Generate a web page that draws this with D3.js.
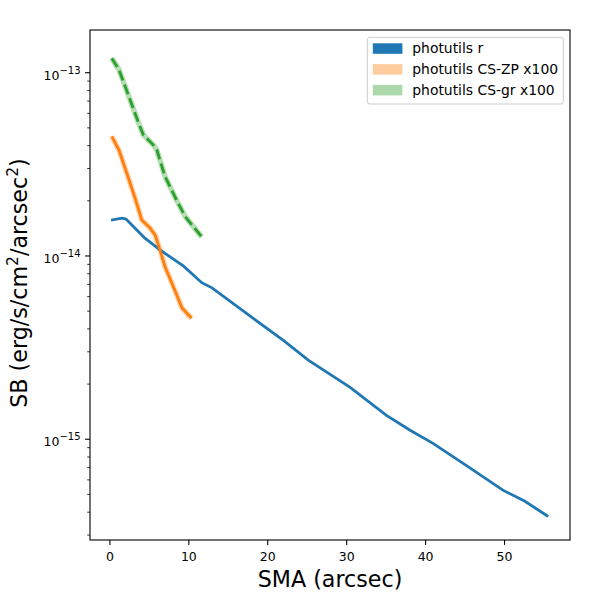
<!DOCTYPE html>
<html>
<head>
<meta charset="utf-8">
<script src="https://cdn.jsdelivr.net/npm/d3@7"></script>
<style>
  body { margin: 0; background: #fff; }
  text { font-family: "DejaVu Sans", sans-serif; }
</style>
</head>
<body>
<div id="chart"></div>
<script>
// photutils r profile (sma in arcsec, SB in erg/s/cm^2/arcsec^2)
const smaR = [0.2, 1.6, 2.1, 4.5, 6.4, 9.4, 11.7, 13.0, 18.4, 22.0, 25.2, 30.5, 35.1, 38.1, 41.0, 45.2, 49.9, 52.6, 55.6];
const sbR = [1.57e-14, 1.61e-14, 1.59e-14, 1.25e-14, 1.08e-14, 8.8e-15, 7.15e-15, 6.7e-15, 4.51e-15, 3.47e-15, 2.70e-15, 1.92e-15, 1.35e-15, 1.12e-15, 9.5e-16, 7.2e-16, 5.26e-16, 4.60e-16, 3.79e-16];

// CS-ZP x100
const smaZP = [0.3, 1.2, 2.2, 3.25, 4.1, 5.15, 5.8, 6.4, 7.05, 8.1, 9.2, 10.4];
const sbZP = [4.49e-14, 3.79e-14, 2.83e-14, 2.07e-14, 1.57e-14, 1.42e-14, 1.30e-14, 1.08e-14, 8.74e-15, 6.8e-15, 5.2e-15, 4.57e-15];

// CS-gr x100
const smaGR = [0.3, 1.2, 2.0, 2.85, 3.7, 4.3, 5.55, 6.0, 7.05, 8.5, 9.6, 11.7];
const sbGR = [1.20e-13, 1.04e-13, 8.41e-14, 6.68e-14, 5.31e-14, 4.58e-14, 4.04e-14, 3.80e-14, 2.71e-14, 2.02e-14, 1.64e-14, 1.27e-14];

const xTicks = [0, 10, 20, 30, 40, 50];
const yDecades = [-15, -14, -13];

const seriesNames = ["photutils r", "photutils CS-ZP x100", "photutils CS-gr x100"];
const colors = ["#1f77b4", "#ff7f0e", "#2ca02c"];

const width = 600, height = 600;
const marginLeft = 90, marginRight = 30, marginTop = 30, marginBottom = 60;

const x = d3.scaleLinear([-2.46, 58.36], [marginLeft, width - marginRight]);
const y = d3.scaleLog([2.82e-16, 1.71e-13], [height - marginBottom, marginTop]);

const svg = d3.select("#chart").append("svg")
    .attr("width", width)
    .attr("height", height)
    .attr("viewBox", [0, 0, width, height]);

const line = d3.line()
    .x(d => x(d[0]))
    .y(d => y(d[1]));

const zip = (a, b) => a.map((v, i) => [v, b[i]]);
const data = [zip(smaR, sbR), zip(smaZP, sbZP), zip(smaGR, sbGR)];

const plot = svg.append("g");

// uncertainty bands (drawn as soft wide strokes)
plot.selectAll(".band")
  .data(data.slice(1))
  .join("path")
    .attr("fill", "none")
    .attr("stroke", (d, i) => colors[i + 1])
    .attr("stroke-opacity", 0.35)
    .attr("stroke-width", 5.5)
    .attr("stroke-linejoin", "round")
    .attr("d", line);

plot.selectAll(".line")
  .data(data)
  .join("path")
    .attr("fill", "none")
    .attr("stroke", (d, i) => colors[i])
    .attr("stroke-width", 2.8)
    .attr("stroke-dasharray", (d, i) => i === 2 ? "10.3,4.4" : null)
    .attr("d", line);

// x axis
const xAxis = d3.axisBottom(x).tickValues(xTicks).tickSize(4.9).tickPadding(7.5);
svg.append("g")
    .attr("transform", `translate(0,${height - marginBottom})`)
    .call(xAxis)
    .call(g => g.select(".domain").remove())
    .call(g => g.selectAll("text").attr("font-size", 12.5).attr("fill", "#000").attr("font-family", "DejaVu Sans"))
    .call(g => g.selectAll("line").attr("stroke", "#000").attr("stroke-width", 1.1));

// y axis: minor ticks
const minor = [];
for (let e = -16; e <= -13; e++) for (let m = 2; m <= 9; m++) {
  const v = m * Math.pow(10, e);
  if (v >= y.domain()[0] && v <= y.domain()[1]) minor.push(v);
}
const yg = svg.append("g");
yg.selectAll(".minor")
  .data(minor)
  .join("line")
    .attr("x1", marginLeft - 2.8).attr("x2", marginLeft)
    .attr("y1", d => y(d)).attr("y2", d => y(d))
    .attr("stroke", "#000").attr("stroke-width", 0.8);
yg.selectAll(".major")
  .data(yDecades)
  .join("line")
    .attr("x1", marginLeft - 4.9).attr("x2", marginLeft)
    .attr("y1", d => y(Math.pow(10, d))).attr("y2", d => y(Math.pow(10, d)))
    .attr("stroke", "#000").attr("stroke-width", 1.1);
const lab = yg.selectAll(".lab")
  .data(yDecades)
  .join("text")
    .attr("x", marginLeft - 9.5)
    .attr("y", d => y(Math.pow(10, d)) + 7.2)
    .attr("text-anchor", "end")
    .attr("font-size", 12.5);
lab.append("tspan").text("10");
lab.append("tspan").attr("dy", -6).attr("font-size", 10).text(d => "\u2212" + Math.abs(d));

// frame
svg.append("rect")
    .attr("x", marginLeft).attr("y", marginTop)
    .attr("width", width - marginLeft - marginRight)
    .attr("height", height - marginTop - marginBottom)
    .attr("fill", "none").attr("stroke", "#000").attr("stroke-width", 1.1);

// axis labels
svg.append("text")
    .attr("x", (marginLeft + width - marginRight) / 2)
    .attr("y", 587)
    .attr("text-anchor", "middle")
    .attr("font-size", 22.2)
    .text("SMA (arcsec)");

const yl = svg.append("text")
    .attr("transform", `translate(27,${(marginTop + height - marginBottom) / 2 - 2}) rotate(-90)`)
    .attr("text-anchor", "middle")
    .attr("font-size", 22.2);
yl.append("tspan").text("SB (erg/s/cm");
yl.append("tspan").attr("dy", -9).attr("font-size", 15.5).text("2");
yl.append("tspan").attr("dy", 9).text("/arcsec");
yl.append("tspan").attr("dy", -9).attr("font-size", 15.5).text("2");
yl.append("tspan").attr("dy", 9).text(")");

// legend
const legend = svg.append("g").attr("transform", "translate(367.3,37.3)");
legend.append("rect")
    .attr("width", 196).attr("height", 66.7)
    .attr("rx", 2.5)
    .attr("fill", "#fff").attr("fill-opacity", 0.8)
    .attr("stroke", "#ccc").attr("stroke-width", 1);
const item = legend.selectAll(".item")
  .data(seriesNames)
  .join("g")
    .attr("transform", (d, i) => `translate(5.5,${6 + i * 20.8})`);
item.append("rect")
    .attr("width", 29.6).attr("height", 10.5)
    .attr("fill", (d, i) => colors[i])
    .attr("fill-opacity", (d, i) => i === 0 ? 1 : 0.4);
item.append("text")
    .attr("x", 39.5).attr("y", 10)
    .attr("font-size", 13.9)
    .text(d => d);
</script>
</body>
</html>
